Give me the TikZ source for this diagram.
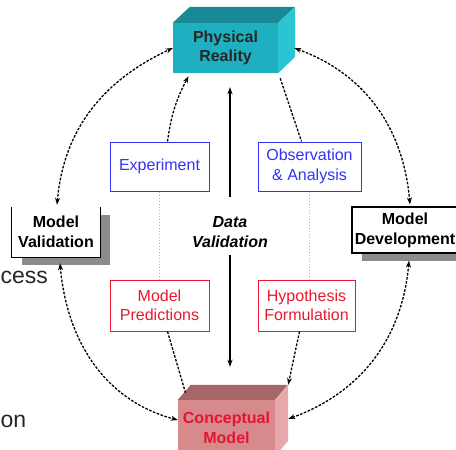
\documentclass[tikz,border=0pt]{standalone}
\usepackage{fontspec}
\setmainfont{Liberation Sans}
\usepackage{tikz}
\usetikzlibrary{shadows}
\usetikzlibrary{arrows.meta}

\definecolor{realfront}{RGB}{30,176,192}
\definecolor{realtop}{RGB}{24,138,150}
\definecolor{realside}{RGB}{44,196,210}
\definecolor{cmfront}{RGB}{214,138,140}
\definecolor{cmtop}{RGB}{166,102,104}
\definecolor{cmside}{RGB}{230,168,170}
\definecolor{cmtext}{RGB}{230,20,50}
\definecolor{inblue}{RGB}{50,50,250}
\definecolor{outred}{RGB}{235,25,45}

\begin{document}
\begin{tikzpicture}[x=1pt,y=-1pt,
    font=\fontsize{16}{19.5}\selectfont,
    >={Stealth[length=7pt,width=5pt]},
    cycleline/.style={line width=1.3pt,dash pattern=on 2.6pt off 1.5pt},
    faintline/.style={line width=1pt,black!30,dotted},
    datalink/.style={line width=1.6pt},
    inbox/.style={draw=inblue,text=inblue,line width=1pt,fill=white,
      align=center,inner sep=0pt},
    outbox/.style={draw=outred,text=outred,line width=1pt,fill=white,
      align=center,inner sep=0pt},
    modelbox/.style={fill=white,align=center,inner sep=0pt,font=\fontsize{16}{20}\selectfont\bfseries,
      drop shadow={shadow xshift=10pt,shadow yshift=-8pt,fill=black!45,opacity=1}},
    cube/.style={align=center,inner sep=0pt,font=\fontsize{16}{19.5}\selectfont\bfseries},
    fragment/.style={anchor=base west,inner sep=0pt,font=\fontsize{23}{26}\selectfont,text=black!85}
  ]
  \useasboundingbox (0,0) rectangle (456,450);

  \node[fragment] (cess) at (0.5,283) {cess};
  \node[fragment] (on) at (0.5,427) {on};

  % the two blocks
  \node[cube,fill=realfront,text=black!85,minimum width=105pt,minimum height=50pt] (real) at (225.5,48) {Physical\\Reality};
  \fill[realtop] (real.north west) -- ++(17,-16) -- ++(105,0) -- (real.north east) -- cycle;
  \fill[realside] (real.north east) -- ++(17,-16) -- ++(0,50) -- (real.south east) -- cycle;

  \node[cube,fill=cmfront,text=cmtext,minimum width=97pt,minimum height=56pt] (cm) at (226.5,428) {Conceptual\\Model};
  \fill[cmtop] (cm.north west) -- ++(13,-15) -- ++(97,0) -- (cm.north east) -- cycle;
  \fill[cmside] (cm.north east) -- ++(13,-15) -- ++(0,56) -- (cm.south east) -- cycle;

  \node[modelbox,minimum width=88pt,minimum height=50pt] (val) at (56,232) {Model\\Validation};
  \draw[line width=1.2pt] (val.north west) -- (val.south west) -- (val.south east) -- (val.north east);
  \node[modelbox,draw,line width=1.2pt,minimum width=106pt,minimum height=46pt] (dev) at (405,230) {Model\\Development};

  \node[inbox,minimum width=99pt,minimum height=49pt] (exp) at (159.5,166.5) {Experiment};
  \node[inbox,minimum width=103pt,minimum height=49pt] (obs) at (309.5,166.5) {Observation\\\& Analysis};
  \node[outbox,minimum width=99pt,minimum height=51pt] (pred) at (159.5,305.5) {Model\\Predictions};
  \node[outbox,minimum width=97pt,minimum height=51pt] (hyp) at (306.5,305.5) {Hypothesis\\Formulation};

  \node[align=center,inner sep=0pt,font=\fontsize{16}{19.5}\selectfont\bfseries\itshape] (dv) at (230,232) {Data\\Validation};

  % outer cycle
  \draw[cycleline,<->] ([xshift=1pt,yshift=2pt]val.north) to[out=85,in=205] (real.west);
  \draw[cycleline,<->] ([xshift=4pt,yshift=-6pt]val.south) to[out=275,in=165] ([yshift=8pt]cm.west);
  \draw[cycleline,<->] ([xshift=16pt]real.east) to[out=-20,in=95] ([xshift=5pt,yshift=2pt]dev.north);
  \draw[cycleline,<->] ([xshift=4pt,yshift=-7pt]dev.south) to[out=265,in=20] ([xshift=13pt,yshift=9pt]cm.east);

  % inner paths
  \draw[cycleline,->] ([xshift=8pt]exp.north) to[bend left=10] ([xshift=-37pt,yshift=-3pt]real.south);
  \draw[faintline] (exp) -- (pred);
  \draw[cycleline] ([xshift=8pt]pred.south) -- ([xshift=-41pt,yshift=7pt]cm.north);
  \draw[cycleline] ([xshift=2pt,yshift=-5pt]real.south east) -- ([xshift=-8pt]obs.north);
  \draw[faintline] (obs) -- (obs |- hyp.north);
  \draw[cycleline,->] ([xshift=-7pt]hyp.south) -- ([xshift=13pt,yshift=15pt]cm.north east);

  \draw[datalink,->,shorten <=19pt,shorten >=14pt] (dv.north) -- (dv.north |- real.south);
  \draw[datalink,->,shorten <=7.5pt,shorten >=33pt] (dv.south) -- (dv.south |- cm.north);
\end{tikzpicture}
\end{document}
